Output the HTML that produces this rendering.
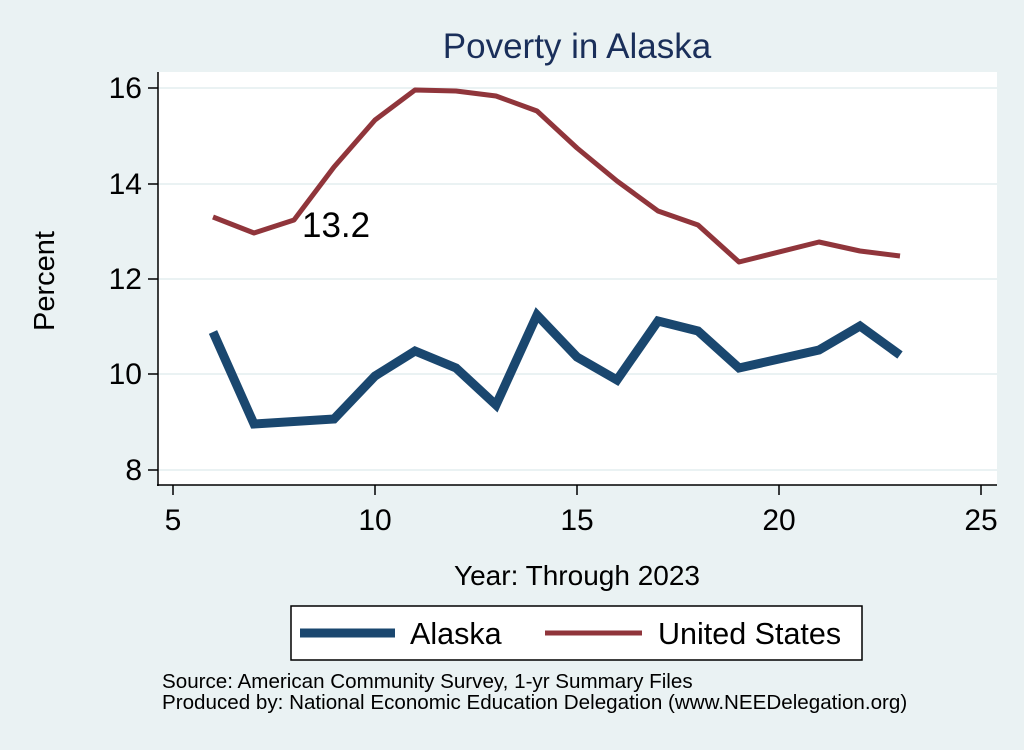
<!DOCTYPE html>
<html><head><meta charset="utf-8"><style>body{margin:0;background:#eaf2f3}</style></head>
<body>
<svg width="1024" height="745" viewBox="0 0 1024 745" xmlns="http://www.w3.org/2000/svg" font-family="Liberation Sans, sans-serif">
<rect width="1024" height="745" fill="#eaf2f3"/>
<rect x="158" y="72" width="839" height="413" fill="#fff"/>
<g stroke="#eaf2f3" stroke-width="2">
<line x1="158" y1="88" x2="997" y2="88"/><line x1="158" y1="184" x2="997" y2="184"/>
<line x1="158" y1="279" x2="997" y2="279"/><line x1="158" y1="374" x2="997" y2="374"/>
<line x1="158" y1="470" x2="997" y2="470"/></g>
<g stroke="#000" stroke-width="1.5">
<line x1="158" y1="72" x2="158" y2="486"/><line x1="157" y1="485" x2="997" y2="485"/>
<line x1="148" y1="88" x2="158" y2="88"/><line x1="148" y1="184" x2="158" y2="184"/>
<line x1="148" y1="279" x2="158" y2="279"/><line x1="148" y1="374" x2="158" y2="374"/>
<line x1="148" y1="470" x2="158" y2="470"/>
<line x1="173" y1="485" x2="173" y2="495"/><line x1="375" y1="485" x2="375" y2="495"/>
<line x1="577" y1="485" x2="577" y2="495"/><line x1="779" y1="485" x2="779" y2="495"/>
<line x1="981" y1="485" x2="981" y2="495"/></g>
<g font-size="30" text-anchor="end" fill="#000">
<text x="142" y="98">16</text><text x="142" y="194">14</text><text x="142" y="289">12</text>
<text x="142" y="384">10</text><text x="142" y="480">8</text></g>
<g font-size="30" text-anchor="middle" fill="#000">
<text x="173" y="530">5</text><text x="375" y="530">10</text><text x="577" y="530">15</text>
<text x="779" y="530">20</text><text x="981" y="530">25</text></g>
<text x="577" y="585" font-size="28" text-anchor="middle">Year: Through 2023</text>
<text transform="translate(54,281) rotate(-90)" font-size="29" text-anchor="middle">Percent</text>
<text x="577" y="58" font-size="35" text-anchor="middle" fill="#1a2f5a">Poverty in Alaska</text>
<polyline fill="none" stroke="#90353b" stroke-width="5" stroke-linejoin="round" points="213,217 254,233 294,220 334,167 375,120 415,90 456,91 496,96 537,111 577,148 617,181 658,211 698,225 739,262 819,242 860,251 900,256"/>
<polyline fill="none" stroke="#1a476f" stroke-width="9" stroke-linejoin="miter" points="213,332 254,424 334,419 375,376 415,351 456,368 496,405 537,315 577,357 617,380 658,321 698,331 739,368 819,350 860,326 900,355"/>
<text x="302" y="237" font-size="35" fill="#000">13.2</text>
<rect x="291" y="606" width="571" height="54" fill="#fff" stroke="#000" stroke-width="1.5"/>
<line x1="300" y1="633" x2="395" y2="633" stroke="#1a476f" stroke-width="9"/>
<text x="410" y="644" font-size="30.5">Alaska</text>
<line x1="545" y1="633" x2="642" y2="633" stroke="#90353b" stroke-width="5"/>
<text x="658" y="644" font-size="30.5">United States</text>
<text x="162" y="688" font-size="20.6">Source: American Community Survey, 1-yr Summary Files</text>
<text x="162" y="709" font-size="20.6">Produced by: National Economic Education Delegation (www.NEEDelegation.org)</text>
</svg>
</body></html>
